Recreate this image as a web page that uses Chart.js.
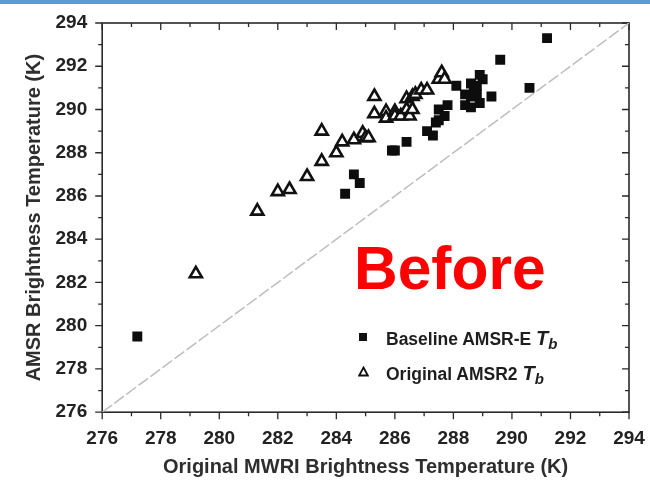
<!DOCTYPE html>
<html lang="en">
<head>
  <meta charset="UTF-8">
  <title>AMSR vs MWRI - Before</title>
  <script src="https://cdn.jsdelivr.net/npm/chart.js"></script>
  <style>
    body { margin: 0; background: #fff; font-family: "Liberation Sans", Arial, sans-serif; }
    #wrap { position: relative; width: 650px; height: 481px; overflow: hidden; }
    #topbar { position: absolute; left: 0; top: 0; width: 650px; height: 4px; background: #5b9bd5; }
    #before { position: absolute; left: 354px; top: 238px; font-size: 60.5px; font-weight: bold; color: #ff0000; line-height: 1; }
    .leg { position: absolute; left: 386px; font-size: 17.5px; font-weight: bold; color: #1e1e1e; line-height: 1; white-space: nowrap; }
    .leg i { font-size: 20px; }
    .leg sub { font-size: 15px; font-style: italic; vertical-align: -4px; }
    .mk { position: absolute; }
  </style>
</head>
<body>
<div id="wrap">
  <canvas id="chart" width="650" height="481"></canvas>
  <div id="topbar"></div>
  <div id="before">Before</div>
  <div class="mk" style="left:359px; top:333px; width:8px; height:8px; background:#111;"></div>
  <div class="leg" style="top:328px;">Baseline AMSR-E <i>T</i><sub>b</sub></div>
  <svg class="mk" style="left:358px; top:366px;" width="11" height="11"><polygon points="5.5,1.5 9.8,9.5 1.2,9.5" fill="#fff" stroke="#111" stroke-width="1.8"/></svg>
  <div class="leg" style="top:363px;">Original AMSR2 <i>T</i><sub>b</sub></div>
</div>

<script>
// axis ticks (labelled ones)
const tickLabels = [276, 278, 280, 282, 284, 286, 288, 290, 292, 294];

// Baseline AMSR-E Tb (filled squares)
const baselineX = [277.2, 284.3, 284.6, 284.8, 285.9, 286.0, 286.4, 287.1, 287.3, 287.4,
                   287.5, 287.7, 287.5, 287.8, 288.4, 288.6, 288.9, 288.4, 288.6, 288.8,
                   289.3, 288.7, 288.8, 288.1, 288.6, 288.9, 289.0, 289.6, 290.6, 291.2];
const baselineY = [279.5, 286.1, 287.0, 286.6, 288.1, 288.1, 288.5, 289.0, 288.8, 289.4,
                   289.5, 289.7, 290.0, 290.2, 290.2, 290.1, 290.3, 290.7, 290.6, 290.7,
                   290.6, 290.9, 291.1, 291.1, 291.2, 291.6, 291.4, 292.3, 291.0, 293.3];

// Original AMSR2 Tb (open triangles)
const amsr2X = [279.2, 281.3, 282.0, 282.4, 283.0, 283.5, 283.5, 284.0, 284.2, 284.6,
                284.9, 285.0, 285.1, 285.3, 285.3, 285.7, 285.7, 286.0, 286.0, 286.2,
                286.4, 286.5, 286.6, 286.4, 286.6, 286.7, 286.9, 287.1, 287.5, 287.6, 287.7];
const amsr2Y = [282.4, 285.3, 286.2, 286.3, 286.9, 287.6, 289.0, 288.0, 288.5, 288.6,
                288.9, 288.7, 288.7, 290.6, 289.8, 289.9, 289.6, 289.9, 289.7, 289.7,
                290.0, 289.7, 290.0, 290.5, 290.6, 290.7, 290.9, 290.9, 291.4, 291.7, 291.4];

// 1:1 reference line
const oneToOne = [276, 294];

const toPoints = (xs, ys) => xs.map((v, i) => ({ x: v, y: ys[i] }));

// box frame + major/minor ticks (outward bottom/left, inward top/right)
const frame = {
  id: 'frame',
  beforeDatasetsDraw(chart) {
    const { ctx, chartArea: a, scales: { x, y } } = chart;
    ctx.save();
    ctx.strokeStyle = '#2a2a2a';
    ctx.lineWidth = 1.6;
    ctx.strokeRect(a.left, a.top, a.right - a.left, a.bottom - a.top);
    ctx.lineWidth = 1.3;
    ctx.beginPath();
    for (let v = x.min; v <= x.max; v++) {
      const len = tickLabels.includes(v) ? 7 : 4;
      const px = x.getPixelForValue(v);
      ctx.moveTo(px, a.bottom); ctx.lineTo(px, a.bottom + len);
      ctx.moveTo(px, a.top); ctx.lineTo(px, a.top + len);
    }
    for (let v = y.min; v <= y.max; v++) {
      const len = tickLabels.includes(v) ? 7 : 4;
      const py = y.getPixelForValue(v);
      ctx.moveTo(a.left, py); ctx.lineTo(a.left - len, py);
      ctx.moveTo(a.right, py); ctx.lineTo(a.right - len, py);
    }
    ctx.stroke();
    ctx.restore();
  }
};

const tickFont = { family: 'Liberation Sans', size: 19, weight: 'bold' };
const titleFont = { family: 'Liberation Sans', size: 20, weight: 'bold', lineHeight: 0.9 };

new Chart(document.getElementById('chart'), {
  type: 'scatter',
  data: {
    datasets: [
      {
        label: 'Baseline AMSR-E Tb',
        data: toPoints(baselineX, baselineY),
        pointStyle: 'rect',
        pointRadius: 7,
        backgroundColor: '#0d0d0d',
        borderColor: '#0d0d0d',
        borderWidth: 0
      },
      {
        label: 'Original AMSR2 Tb',
        data: toPoints(amsr2X, amsr2Y),
        pointStyle: 'triangle',
        pointRadius: 7,
        backgroundColor: '#ffffff',
        borderColor: '#111',
        borderWidth: 2.6
      },
      {
        label: '1:1',
        type: 'line',
        data: toPoints(oneToOne, oneToOne),
        borderColor: '#bdbdbd',
        borderWidth: 1.5,
        borderDash: [12, 3],
        pointRadius: 0,
        order: 5
      }
    ]
  },
  options: {
    responsive: false,
    animation: false,
    devicePixelRatio: 1,
    layout: { padding: { left: 25.5, right: 21, top: 23, bottom: 5 } },
    plugins: { legend: { display: false }, tooltip: { enabled: false } },
    scales: {
      x: {
        type: 'linear',
        min: 276, max: 294,
        afterBuildTicks: s => { s.ticks = tickLabels.map(v => ({ value: v })); },
        afterFit: s => { s.paddingRight = 0; },
        ticks: { color: '#222', font: tickFont, padding: 8, maxRotation: 0 },
        grid: { drawOnChartArea: false, tickLength: 7, tickColor: 'rgba(0,0,0,0)' },
        border: { display: false },
        title: { display: true, text: 'Original MWRI Brightness Temperature (K)', color: '#2e2e2e', font: titleFont, padding: { top: 0, bottom: 0 } }
      },
      y: {
        type: 'linear',
        min: 276, max: 294,
        afterBuildTicks: s => { s.ticks = tickLabels.map(v => ({ value: v })); },
        ticks: { color: '#222', font: tickFont, padding: 8 },
        grid: { drawOnChartArea: false, tickLength: 7, tickColor: 'rgba(0,0,0,0)' },
        border: { display: false },
        title: { display: true, text: 'AMSR Brightness Temperature (K)', color: '#2e2e2e', font: titleFont, padding: { top: 0, bottom: 4 } }
      }
    }
  },
  plugins: [frame]
});
</script>
</body>
</html>
